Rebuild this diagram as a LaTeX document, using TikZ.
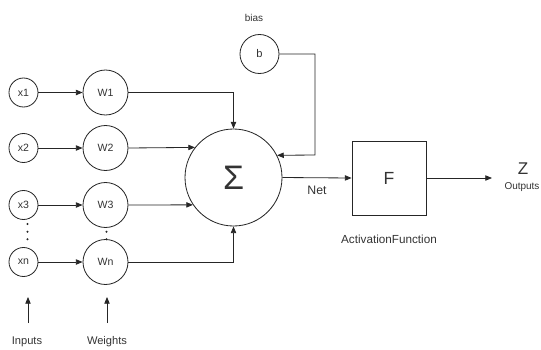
\documentclass[tikz,border=0pt]{standalone}
\usepackage{fontspec}
\setmainfont{Liberation Sans}
\usetikzlibrary{arrows.meta, positioning}
\definecolor{LineDark}{HTML}{262626}
\definecolor{TextDark}{HTML}{333333}

\tikzset{
    neuron/.style={circle, draw=LineDark, inner sep=0pt, text=TextDark, font=\fontsize{9}{10}\selectfont},
    link/.style={draw=LineDark, -{Triangle[length=2mm, width=1.6mm]}},
    caption/.style={text=TextDark, inner sep=1pt}
}

\begin{document}
\begin{tikzpicture}[x=0.3mm, y=-0.3mm, line width=0.7pt]
        \useasboundingbox (0,0) rectangle (541,349);

        % Inputs and weights
        \foreach \i/\y in {1/92.5, 2/148, 3/205, n/262} {
            \node[neuron, minimum size=8.7mm] (x\i) at (23.5,\y) {x\i};
            \node[neuron, minimum size=13.5mm] (w\i) at (105.5,\y) {W\i};
            \draw[link] (x\i) -- (w\i);
        }

        % Dots
        \foreach \y in {224, 231.7, 239.3} {
            \fill[LineDark] (27.5,\y) circle (0.35mm);
        }
        \foreach \y in {231.7, 239.3} {
            \fill[LineDark] (106.5,\y) circle (0.35mm);
        }

        % Summation and bias
        \node[neuron, minimum size=29.1mm, font=\fontsize{29}{31}\selectfont] (sum) at (233.5,177.5) {Σ};
        \node[neuron, minimum size=11.7mm, font=\fontsize{9.5}{10}\selectfont] (b) at (259.5,54) {b};
        \node[caption, font=\fontsize{8.5}{9}\selectfont] (biaslbl) at (254,18) {bias};
        \coordinate (bturn) at (315,155);

        \draw[link] (w1.east) -| (sum.north);
        \draw[link] (w2.east) -- (sum.142.5);
        \draw[link] (w3.east) -- (sum.214.5);
        \draw[link] (wn.east) -| (sum.south);
        \draw[link] (b.east) -| (bturn) -- (sum.27.6);

        % Activation
        \node[draw=LineDark, minimum size=22.2mm, inner sep=0pt, text=TextDark, font=\fontsize{15}{17}\selectfont] (act) at (389,178) {F};
        \node[caption, font=\fontsize{10}{11}\selectfont] (actlbl) at (389,239) {ActivationFunction};
        \draw[link] (sum.east) -- node[caption, below=2mm, font=\fontsize{10.5}{12}\selectfont] {Net} (act.west);

        % Output
        \coordinate (outend) at (492,178);
        \draw[link] (act.east) -- (outend);
        \node[caption, font=\fontsize{14.5}{15}\selectfont] (z) at (523,169) {Z};
        \node[caption, font=\fontsize{8.5}{9}\selectfont] (outlbl) at (522,187) {Outputs};

        % Labels
        \node[caption, font=\fontsize{9.5}{10}\selectfont] (inlbl) at (27,342) {Inputs};
        \node[caption, font=\fontsize{9.5}{10}\selectfont] (wlbl) at (107,342) {Weights};
        \coordinate (inbase) at (28,323);
        \coordinate (wbase) at (107,323);
        \draw[link] (inbase) -- ++(0,-26);
        \draw[link] (wbase) -- ++(0,-26);

    \end{tikzpicture}
\end{document}
